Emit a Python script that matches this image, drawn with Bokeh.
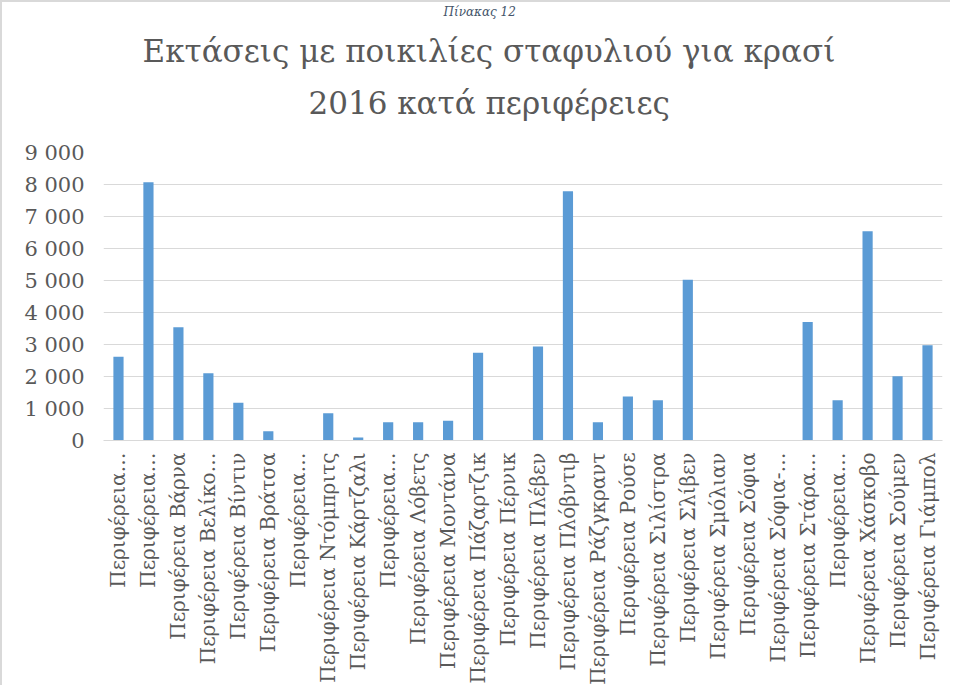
import math
from bokeh.plotting import figure
from bokeh.models import Title, FixedTicker, Range1d
from bokeh.embed import file_html
from bokeh.resources import INLINE

# ---- data ----
regions = [
    "Μπλαγκόεβγκραντ", "Μπουργκάς", "Βάρνα", "Βέλικο Τάρνοβο", "Βίντιν", "Βράτσα",
    "Γκάμπροβο", "Ντόμπριτς", "Κάρτζαλι", "Κιούστεντιλ", "Λόβετς", "Μοντάνα",
    "Πάζαρτζικ", "Πέρνικ", "Πλέβεν", "Πλόβντιβ", "Ράζγκραντ", "Ρούσε",
    "Σιλίστρα", "Σλίβεν", "Σμόλιαν", "Σόφια", "Σόφια-πόλη", "Στάρα Ζαγόρα",
    "Τάργκοβιστε", "Χάσκοβο", "Σούμεν", "Γιάμπολ",
]
region_labels = [
    "Περιφέρεια…", "Περιφέρεια…", "Περιφέρεια Βάρνα", "Περιφέρεια Βελίκο…",
    "Περιφέρεια Βίντιν", "Περιφέρεια Βράτσα", "Περιφέρεια…", "Περιφέρεια Ντόμπριτς",
    "Περιφέρεια Κάρτζαλι", "Περιφέρεια…", "Περιφέρεια Λόβετς", "Περιφέρεια Μοντάνα",
    "Περιφέρεια Πάζαρτζικ", "Περιφέρεια Πέρνικ", "Περιφέρεια Πλέβεν", "Περιφέρεια Πλόβντιβ",
    "Περιφέρεια Ράζγκραντ", "Περιφέρεια Ρούσε", "Περιφέρεια Σιλίστρα", "Περιφέρεια Σλίβεν",
    "Περιφέρεια Σμόλιαν", "Περιφέρεια Σόφια", "Περιφέρεια Σόφια-…", "Περιφέρεια Στάρα…",
    "Περιφέρεια…", "Περιφέρεια Χάσκοβο", "Περιφέρεια Σούμεν", "Περιφέρεια Γιάμπολ",
]
areas = [
    2620, 8070, 3540, 2100, 1180, 290,
    0, 850, 95, 570, 570, 615,
    2740, 0, 2940, 7790, 570, 1375,
    1260, 5020, 0, 0, 0, 3700,
    1260, 6540, 2010, 2980,
]
y_ticks = [0, 1000, 2000, 3000, 4000, 5000, 6000, 7000, 8000, 9000]
y_tick_labels = ["0", "1 000", "2 000", "3 000", "4 000", "5 000",
                 "6 000", "7 000", "8 000", "9 000"]
title_lines = ["Εκτάσεις με ποικιλίες σταφυλιού για κρασί", "2016 κατά περιφέρειες"]
caption = "Πίνακας 12"

# ---- figure ----
positions = list(range(1, len(regions) + 1))
W, H = 950, 685

p = figure(width=W, height=H, output_backend="svg", toolbar_location=None,
           x_range=Range1d(0.5, len(regions) + 0.5), y_range=Range1d(0, 9000),
           min_border_left=101, min_border_right=10, min_border_top=10,
           min_border_bottom=247,
           styles={"border-top": "2px solid #d9d9d9", "border-left": "2px solid #d9d9d9"})
p.background_fill_color = "white"
p.border_fill_color = "white"
p.outline_line_color = None

p.vbar(x=positions, top=areas, width=0.34, fill_color="#5b9bd5", line_color=None)

# y axis
p.yaxis.ticker = FixedTicker(ticks=y_ticks)
p.yaxis.major_label_overrides = {t: l for t, l in zip(y_ticks, y_tick_labels)}
p.yaxis.axis_line_color = None
p.yaxis.major_tick_line_color = None
p.yaxis.minor_tick_line_color = None
p.yaxis.major_label_standoff = 13
p.yaxis.major_label_text_font = "DejaVu Serif"
p.yaxis.major_label_text_font_size = "21px"
p.yaxis.major_label_text_color = "#595959"

# x axis
p.xaxis.ticker = FixedTicker(ticks=positions)
p.xaxis.major_label_overrides = {i: l for i, l in zip(positions, region_labels)}
p.xaxis.major_label_orientation = math.pi / 2
p.xaxis.axis_line_color = "#d9d9d9"
p.xaxis.axis_line_width = 1
p.xaxis.major_tick_line_color = None
p.xaxis.minor_tick_line_color = None
p.xaxis.major_label_standoff = 6
p.xaxis.major_label_text_font = "DejaVu Serif"
p.xaxis.major_label_text_font_size = "20px"
p.xaxis.major_label_text_color = "#595959"

p.xgrid.grid_line_color = None
p.ygrid.ticker = FixedTicker(ticks=y_ticks)
p.ygrid.grid_line_color = "#d9d9d9"
p.ygrid.grid_line_width = 1


def make_title(text, size, offset, standoff, style="normal", color="#595959"):
    t = Title(text=text, align="left", offset=offset, text_font="DejaVu Serif",
              text_font_size=size, text_font_style=style, text_color=color)
    try:
        t.standoff = standoff
    except Exception:
        pass
    return t


# first added sits nearest the plot area; the blank one only adds space
p.add_layout(make_title(" ", "2px", 0, 26), "above")
p.add_layout(make_title(title_lines[1], "31px", 205, 4), "above")
p.add_layout(make_title(title_lines[0], "31px", 39, 24), "above")
p.add_layout(make_title(caption, "12px", 340, 0, style="italic", color="#44546a"), "above")

open("out.html", "w").write(file_html(p, INLINE))
